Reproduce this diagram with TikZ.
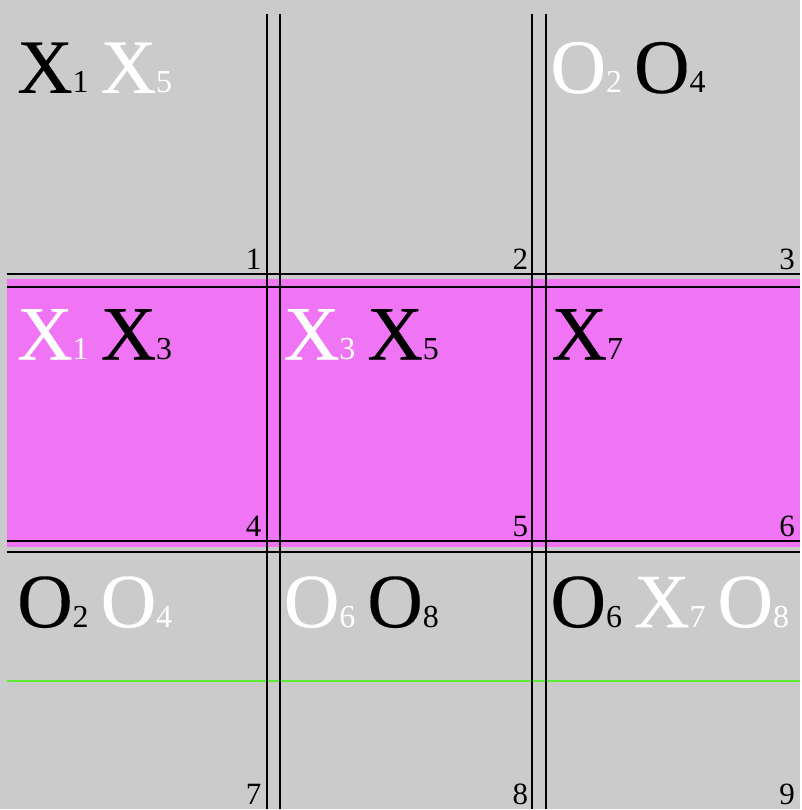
\documentclass[tikz,border=0pt]{standalone}
\usepackage{fontspec}
\setmainfont{Liberation Serif}
\newfontfamily\boardfont[FakeBold=0.2]{Liberation Serif}
\usepackage{tikz}
\usepackage{xcolor}
\usetikzlibrary{positioning}
\definecolor{boardgray}{RGB}{203, 203, 203}
\definecolor{winpink}{RGB}{240, 117, 245}
\definecolor{markgreen}{RGB}{90, 235, 50}
\newcommand{\mv}[3]{{\color{#1}\boardfont#2\rmfamily\fontsize{32}{32}\selectfont #3}}
\newcommand{\gap}{\hspace{12pt}}
\tikzset{cell/.style={anchor=base west, inner sep=0pt, font=\fontsize{77}{77}\selectfont},
         num/.style={anchor=base east, inner sep=0pt, font=\fontsize{31}{31}\selectfont},
         rule/.style={line width=2pt}}

\begin{document}
\begin{tikzpicture}[x=1pt, y=-1pt]
                    \fill[boardgray] (0, 0) rectangle (801, 810);
                    \fill[winpink] (7, 279) rectangle (801, 548);
                    \draw[markgreen, line width=2pt] (7, 682) -- (801, 682);
                    \draw[rule] (7, 274) -- (801, 274);
                    \draw[rule] (7, 287) -- (801, 287);
                    \draw[rule] (7, 542) -- (801, 542);
                    \draw[rule] (7, 553) -- (801, 553);
                    \draw[rule] (267, 14) -- (267, 810);
                    \draw[rule] (280, 14) -- (280, 810);
                    \draw[rule] (533, 14) -- (533, 810);
                    \draw[rule] (547, 14) -- (547, 810);
                    % moves in each square
                    \node[cell] (sq1) at (17, 93) {\mv{black}{X}{1}\gap\mv{white}{X}{5}};
                    \node[cell] (sq3) at (551, 93) {\mv{white}{O}{2}\gap\mv{black}{O}{4}};
                    \node[cell] (sq4) at (17, 360) {\mv{white}{X}{1}\gap\mv{black}{X}{3}};
                    \node[cell] (sq5) at (284, 360) {\mv{white}{X}{3}\gap\mv{black}{X}{5}};
                    \node[cell] (sq6) at (552, 360) {\mv{black}{X}{7}};
                    \node[cell] (sq7) at (17, 628) {\mv{black}{O}{2}\gap\mv{white}{O}{4}};
                    \node[cell] (sq8) at (284, 628) {\mv{white}{O}{6}\gap\mv{black}{O}{8}};
                    \node[cell] (sq9) at (551, 628) {\mv{black}{O}{6}\gap\mv{white}{X}{7}\gap\mv{white}{O}{8}};
                    % square numbers
                    \node[num] (n1) at (262, 270) {1};
                    \node[num] (n2) at (529, 270) {2};
                    \node[num] (n3) at (796, 270) {3};
                    \node[num] (n4) at (262, 537) {4};
                    \node[num] (n5) at (529, 537) {5};
                    \node[num] (n6) at (796, 537) {6};
                    \node[num] (n7) at (262, 805) {7};
                    \node[num] (n8) at (529, 805) {8};
                    \node[num] (n9) at (796, 805) {9};
                \end{tikzpicture}
\end{document}
